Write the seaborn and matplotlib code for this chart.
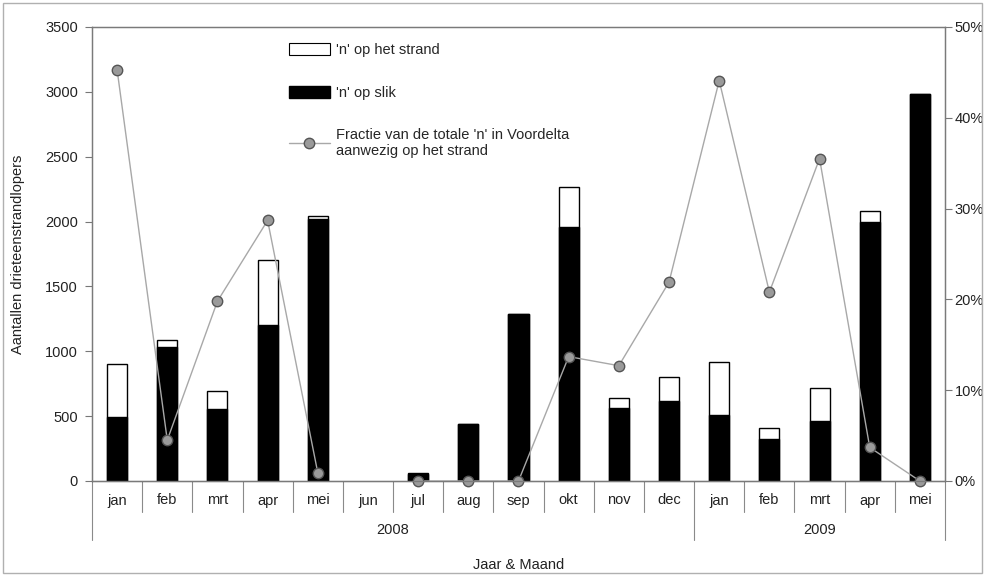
import numpy as np
import pandas as pd
import matplotlib
matplotlib.use("Agg")
import matplotlib.pyplot as plt
import matplotlib.transforms as mtrans
from matplotlib.patches import Patch, Rectangle
from matplotlib.lines import Line2D
import seaborn as sns

# ---------------- data ----------------
months = ["jan", "feb", "mrt", "apr", "mei", "jun", "jul", "aug", "sep", "okt",
          "nov", "dec", "jan", "feb", "mrt", "apr", "mei"]
years = ["2008"] * 12 + ["2009"] * 5
totaal = [905, 1085, 690, 1700, 2040, 0, 60, 440, 1290, 2270, 640, 800,
          915, 405, 720, 2080, 2980]
slik = [495, 1035, 555, 1200, 2020, 0, 55, 440, 1290, 1960, 560, 620,
        510, 320, 460, 2000, 2980]
fractie = [45.3, 4.5, 19.8, 28.7, 0.9, np.nan, 0, 0, 0, 13.7, 12.7, 21.9,
           44.1, 20.8, 35.5, 3.7, 0]

sns.set_theme(style="white")
plt.rcParams['font.family'] = ['Liberation Sans', 'DejaVu Sans']

df = pd.DataFrame({"pos": np.arange(len(months)), "totaal": totaal,
                   "slik": slik, "fractie": fractie})
df["seg"] = np.cumsum(pd.isna(df["fractie"]).astype(int))
dline = df.dropna(subset=["fractie"])

W, H = 986, 576
fig = plt.figure(figsize=(W / 100, H / 100), dpi=100)
ax = fig.add_axes([92 / W, (H - 481) / H, 853 / W, 454 / H])

sns.barplot(data=df, x="pos", y="totaal", color="white", edgecolor="black",
            linewidth=1.0, width=0.4, saturation=1, errorbar=None, ax=ax)
sns.barplot(data=df, x="pos", y="slik", color="black", edgecolor="black",
            linewidth=1.0, width=0.4, saturation=1, errorbar=None, ax=ax)
for p in ax.patches:
    if p.get_height() == 0:
        p.set_visible(False)

ax.set_ylim(0, 3500)
ax.set_yticks(range(0, 3501, 500))
ax.set_xlim(-0.5, len(months) - 0.5)
ax.set_xticks(range(len(months)))
ax.set_xticklabels(months, fontsize=10.5)
ax.set_xlabel("")
ax.set_ylabel("")
ax.tick_params(axis="x", length=0, pad=9, colors="#222222")
ax.tick_params(axis="y", direction="out", length=5, width=0.8, color="#777777",
               labelsize=10.5, labelcolor="#222222", left=True, pad=5)

ax2 = ax.twinx()
sns.lineplot(data=dline, x="pos", y="fractie", units="seg", estimator=None,
             color="#a8a8a8", linewidth=1.0, marker="o", markersize=7.5,
             markerfacecolor="#9a9a9a", markeredgecolor="#555555",
             markeredgewidth=1.0, legend=False, ax=ax2, clip_on=False)
ax2.set_xlim(-0.5, len(months) - 0.5)
ax2.set_ylim(0, 50)
ax2.set_yticks(range(0, 51, 10))
ax2.set_yticklabels([f"{v}%" for v in range(0, 51, 10)], fontsize=10.5)
ax2.set_ylabel("")
ax2.tick_params(axis="y", direction="out", length=5, width=0.8, color="#777777",
                labelcolor="#222222", right=True, pad=2)

for a in (ax, ax2):
    for s in a.spines.values():
        s.set_color("#7a7a7a")
        s.set_linewidth(0.9)
ax.spines["bottom"].set_color("#444444")

# multi-level category axis separators
trans = mtrans.blended_transform_factory(ax.transData, ax.transAxes)
px = 1 / 454
n = len(months)
for k in range(n + 1):
    xk = k - 0.5
    long = k == 0 or k == n or years[k - 1] != years[k]
    y1 = -(59 if long else 31) * px
    ax.plot([xk, xk], [0, y1], transform=trans, color="#8a8a8a", lw=0.8,
            clip_on=False)

for yr in ["2008", "2009"]:
    idx = [i for i, y in enumerate(years) if y == yr]
    ax.text((idx[0] + idx[-1]) / 2, -49 * px, yr, transform=trans,
            ha="center", va="center", fontsize=10.5, color="#222222")

fig.text(518.5 / W, 1 - 565 / H, "Jaar & Maand", ha="center", va="center",
         fontsize=10.5, color="#222222")
fig.text(18 / W, 1 - 254 / H, "Aantallen drieteenstrandlopers", ha="center",
         va="center", rotation=90, fontsize=10.5, color="#222222")

handles = [Patch(facecolor="white", edgecolor="black", linewidth=0.8),
           Patch(facecolor="black", edgecolor="black"),
           Line2D([], [], color="#a8a8a8", lw=1.0, marker="o", markersize=7.5,
                  markerfacecolor="#9a9a9a", markeredgecolor="#555555")]
labels = ["'n' op het strand", "'n' op slik",
          "Fractie van de totale 'n' in Voordelta\naanwezig op het strand"]
leg = ax2.legend(handles, labels, loc="upper left",
                 bbox_to_anchor=(289 / W, 1 - 43 / H),
                 bbox_transform=fig.transFigure, frameon=False,
                 fontsize=10.5, handlelength=2.8, handleheight=0.9,
                 handletextpad=0.4, labelspacing=1.95, borderaxespad=0,
                 borderpad=0)

fig.patches.append(Rectangle((3 / W, 3 / H), 979 / W, 570 / H,
                             transform=fig.transFigure, fill=False,
                             edgecolor="#b0b0b0", lw=1))

fig.savefig("out.png", dpi=100)
